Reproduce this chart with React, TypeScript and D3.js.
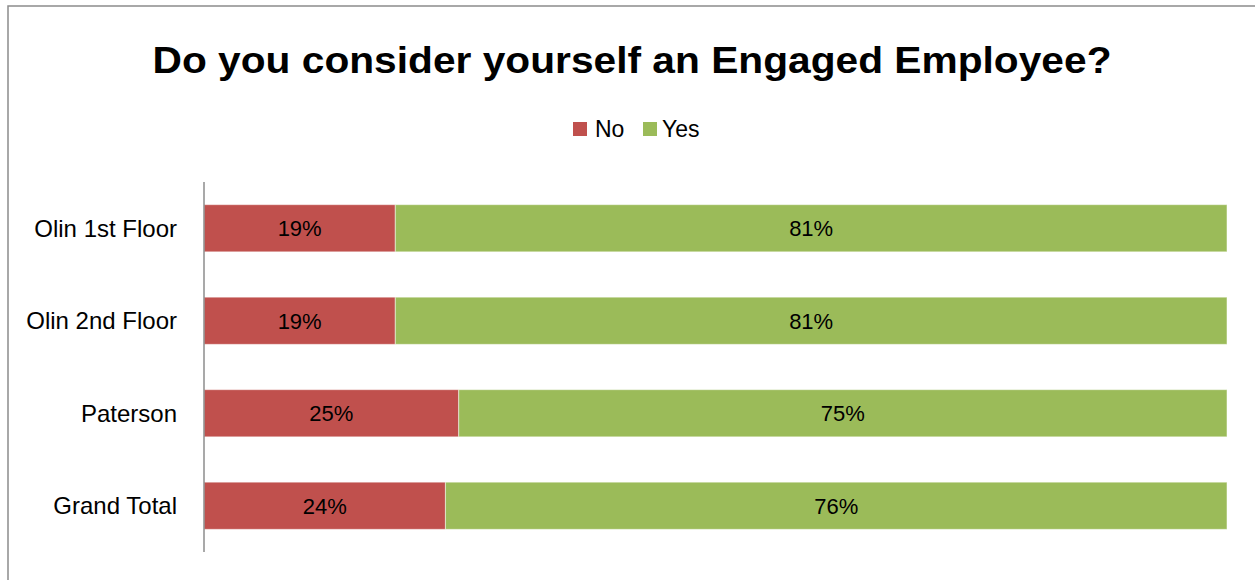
import React from "react";
import * as d3 from "d3";

const categories = ["Olin 1st Floor", "Olin 2nd Floor", "Paterson", "Grand Total"];
const noValues = [18.7, 18.7, 24.9, 23.6];
const yesValues = [81.3, 81.3, 75.1, 76.4];
const seriesNames = ["No", "Yes"];
const colors = ["#C0504D", "#9BBB59"];
const title = "Do you consider yourself an Engaged Employee?";

const W = 1255;
const H = 580;
const FONT = "'Liberation Sans', Arial, sans-serif";

export default function App() {
  const x = d3.scaleLinear().domain([0, 100]).range([204, 1227]);
  const y = d3.scaleBand<string>().domain(categories).range([182, 552]).paddingInner(0.49).paddingOuter(0.245);
  const bw = y.bandwidth();

  return (
    <svg width={W} height={H} style={{ position: "absolute", left: 0, top: 0, background: "#fff" }}>
      <rect x={8} y={6} width={W + 10} height={H + 10} fill="#fff" stroke="#8c8c8c" strokeWidth={1.5} />
      <text x={632} y={73} textAnchor="middle" fontFamily={FONT} fontWeight="bold" fontSize={37} textLength={959} lengthAdjust="spacingAndGlyphs" fill="#000">
        {title}
      </text>
      <g fontFamily={FONT} fontSize={23}>
        <rect x={573} y={122} width={14} height={14} fill={colors[0]} />
        <text x={595} y={137} fill="#000">{seriesNames[0]}</text>
        <rect x={643} y={122} width={14} height={14} fill={colors[1]} />
        <text x={662} y={137} fill="#000">{seriesNames[1]}</text>
      </g>
      {categories.map((c, i) => {
        const y0 = y(c)!;
        const xNoEnd = x(noValues[i]);
        const xYesEnd = x(noValues[i] + yesValues[i]);
        const cy = y0 + bw / 2;
        return (
          <g key={c} fontFamily={FONT}>
            <rect x={x(0)} y={y0} width={xNoEnd - x(0)} height={bw} fill={colors[0]} stroke="rgba(255,255,255,0.5)" strokeWidth={1} />
            <rect x={xNoEnd} y={y0} width={xYesEnd - xNoEnd} height={bw} fill={colors[1]} stroke="rgba(255,255,255,0.5)" strokeWidth={1} />
            <text x={(x(0) + xNoEnd) / 2} y={cy + 8} fontSize={22} textAnchor="middle" fill="#000">{Math.round(noValues[i])}%</text>
            <text x={(xNoEnd + xYesEnd) / 2} y={cy + 8} fontSize={22} textAnchor="middle" fill="#000">{Math.round(yesValues[i])}%</text>
            <text x={177} y={cy + 8.5} fontSize={24} textAnchor="end" fill="#000">{c}</text>
          </g>
        );
      })}
      <line x1={204} x2={204} y1={182} y2={552} stroke="#8c8c8c" strokeWidth={1.5} />
    </svg>
  );
}
